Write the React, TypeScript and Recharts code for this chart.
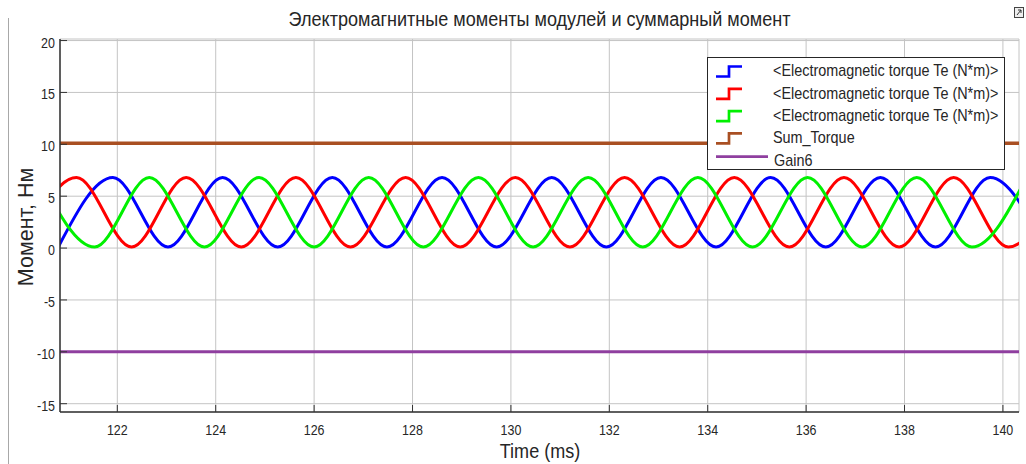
import React from 'react'
import { LineChart, Line, XAxis, YAxis, CartesianGrid, Legend } from 'recharts'

const FONT = '"Liberation Sans", Arial, sans-serif'
const TXT = '#262626'
const SQUEEZE = 0.86 // the scope export is a bit narrow horizontally

const X_TICKS = [122, 124, 126, 128, 130, 132, 134, 136, 138, 140]
const Y_TICKS = [-15, -10, -5, 0, 5, 10, 15, 20]
const X_DOMAIN = [120.835, 140.327]
const Y_DOMAIN = [-15.8, 20.15]

// peaks / troughs of each module torque (ms, N*m)
const TE_BLUE_T = [120.8, 121.91, 123.03, 124.14, 125.26, 126.37, 127.48, 128.6, 129.71, 130.83, 131.94, 133.05, 134.17, 135.28, 136.4, 137.51, 138.63, 139.74, 140.85]
const TE_BLUE_V = [0.1, 6.8, 0.1, 6.8, 0.1, 6.8, 0.1, 6.8, 0.1, 6.8, 0.1, 6.8, 0.1, 6.8, 0.1, 6.8, 0.1, 6.8, 0.1]

const TE_RED_T = [120.06, 121.17, 122.29, 123.4, 124.52, 125.63, 126.74, 127.86, 128.97, 130.09, 131.2, 132.31, 133.43, 134.54, 135.66, 136.77, 137.89, 139.0, 140.11, 141.23]
const TE_RED_V = [0.1, 6.8, 0.1, 6.8, 0.1, 6.8, 0.1, 6.8, 0.1, 6.8, 0.1, 6.8, 0.1, 6.8, 0.1, 6.8, 0.1, 6.8, 0.1, 6.8]

const TE_GREEN_T = [120.42, 121.54, 122.65, 123.77, 124.88, 126.0, 127.11, 128.22, 129.34, 130.45, 131.57, 132.68, 133.8, 134.91, 136.03, 137.14, 138.25, 139.37, 140.48]
const TE_GREEN_V = [6.8, 0.1, 6.8, 0.1, 6.8, 0.1, 6.8, 0.1, 6.8, 0.1, 6.8, 0.1, 6.8, 0.1, 6.8, 0.1, 6.8, 0.1, 6.8]

const SUM_T = [120.8, 125, 130, 135, 140.4]
const SUM_V = [10.1, 10.1, 10.1, 10.1, 10.1]

const GAIN_T = [120.8, 140.4]
const GAIN_V = [-10, -10]

const NAMES = [
  '<Electromagnetic torque Te (N*m)>',
  '<Electromagnetic torque Te (N*m)>',
  '<Electromagnetic torque Te (N*m)>',
  'Sum_Torque',
  'Gain6'
]
const COLORS = ['#0000ff', '#ff0000', '#00f000', '#a94f22', '#8f3f9f']

const toRows = (t: number[], v: number[]) => t.map((x, i) => ({ t: x, v: v[i] }))

const SERIES = [
  toRows(TE_BLUE_T, TE_BLUE_V),
  toRows(TE_RED_T, TE_RED_V),
  toRows(TE_GREEN_T, TE_GREEN_V),
  toRows(SUM_T, SUM_V),
  toRows(GAIN_T, GAIN_V)
]

const XTick = (p: any) => (
  <text
    transform={`translate(${p.x},${p.y}) scale(${SQUEEZE},1)`}
    textAnchor="middle"
    fontSize={14.5}
    fontFamily={FONT}
    fill={TXT}
  >
    {p.payload.value}
  </text>
)

const YTick = (p: any) => (
  <text
    transform={`translate(${p.x},${p.y + 7}) scale(${SQUEEZE},1)`}
    textAnchor="end"
    fontSize={14.5}
    fontFamily={FONT}
    fill={TXT}
  >
    {p.payload.value}
  </text>
)

const LegendBox = () => (
  <svg width={298} height={113} style={{ display: 'block' }}>
    <rect x={0.5} y={0.5} width={297} height={112} fill="#fff" stroke={TXT} />
    {NAMES.map((name, i) => {
      const cy = 13.5 + i * 22.3
      const color = COLORS[i]
      const plain = name === 'Gain6'
      return (
        <g key={i}>
          {plain ? (
            <line x1={9} x2={61} y1={cy - 3} y2={cy - 3} stroke={color} strokeWidth={2.7} />
          ) : (
            <polyline
              points={`9,${cy + 6} 22,${cy + 6} 22,${cy - 4} 35,${cy - 4}`}
              fill="none"
              stroke={color}
              strokeWidth={2.7}
            />
          )}
          <text
            transform={`translate(${plain ? 67 : 66},${cy + 5.8}) scale(0.9,1)`}
            fontSize={16}
            fontFamily={FONT}
            fill={TXT}
          >
            {name}
          </text>
        </g>
      )
    })}
  </svg>
)

export default function App() {
  return (
    <div style={{ position: 'absolute', left: 0, top: 0, width: 1026, height: 464, background: '#fff' }}>
      <LineChart width={1026} height={464} margin={{ top: 39, right: 7, bottom: 22, left: 10 }}>
        <CartesianGrid stroke="#c4c4c4" strokeWidth={1} />
        <XAxis
          xAxisId={0}
          type="number"
          dataKey="t"
          domain={X_DOMAIN}
          ticks={X_TICKS}
          allowDataOverflow
          height={30}
          tickSize={-7}
          tickMargin={30}
          tick={<XTick />}
          axisLine={{ stroke: '#333', strokeWidth: 1.5 }}
          tickLine={{ stroke: '#333' }}
        />
        <XAxis
          xAxisId="top"
          orientation="top"
          type="number"
          domain={X_DOMAIN}
          ticks={X_TICKS}
          allowDataOverflow
          height={0}
          tickSize={-7}
          tick={false}
          axisLine={{ stroke: '#333', strokeWidth: 1.5 }}
          tickLine={{ stroke: '#333' }}
        />
        <YAxis
          yAxisId={0}
          type="number"
          domain={Y_DOMAIN}
          ticks={Y_TICKS}
          allowDataOverflow
          width={50}
          tickSize={-7}
          tickMargin={12}
          tick={<YTick />}
          axisLine={{ stroke: '#333', strokeWidth: 1.5 }}
          tickLine={{ stroke: '#333' }}
        />
        <YAxis
          yAxisId="right"
          orientation="right"
          type="number"
          domain={Y_DOMAIN}
          ticks={Y_TICKS}
          allowDataOverflow
          width={0}
          tickSize={-7}
          tick={false}
          axisLine={{ stroke: '#333', strokeWidth: 1.5 }}
          tickLine={{ stroke: '#333' }}
        />
        {SERIES.map((rows, i) => (
          <Line
            key={i}
            data={rows}
            dataKey="v"
            name={NAMES[i]}
            type="monotone"
            stroke={COLORS[i]}
            strokeWidth={i === 3 ? 3.5 : 3}
            dot={false}
            activeDot={false}
            isAnimationActive={false}
          />
        ))}
        <Legend
          content={<LegendBox />}
          layout="horizontal"
          verticalAlign="middle"
          align="center"
          wrapperStyle={{ position: 'absolute', left: 707, top: 57, width: 298, height: 113 }}
        />
      </LineChart>

      <svg
        width={1026}
        height={464}
        style={{ position: 'absolute', left: 0, top: 0, pointerEvents: 'none' }}
      >
        <line x1={8.5} x2={8.5} y1={18} y2={464} stroke="#a8a8a8" />
        <text
          transform={`translate(539.5,26) scale(${SQUEEZE},1)`}
          textAnchor="middle"
          fontSize={21}
          fontFamily={FONT}
          fill={TXT}
        >
          Электромагнитные моменты модулей и суммарный момент
        </text>
        <text
          transform={`translate(540,458) scale(${SQUEEZE},1)`}
          textAnchor="middle"
          fontSize={21}
          fontFamily={FONT}
          fill={TXT}
        >
          Time (ms)
        </text>
        <text
          transform="translate(33,227) rotate(-90)"
          textAnchor="middle"
          fontSize={21.5}
          fontFamily={FONT}
          fill={TXT}
        >
          Момент, Нм
        </text>
        <rect x={1014.5} y={7.5} width={9} height={10} fill="#eee" stroke="#444" />
        <path d="M 1017 15 L 1021 10 M 1018 10 L 1021 10 L 1021 13" stroke="#333" fill="none" />
      </svg>
    </div>
  )
}
